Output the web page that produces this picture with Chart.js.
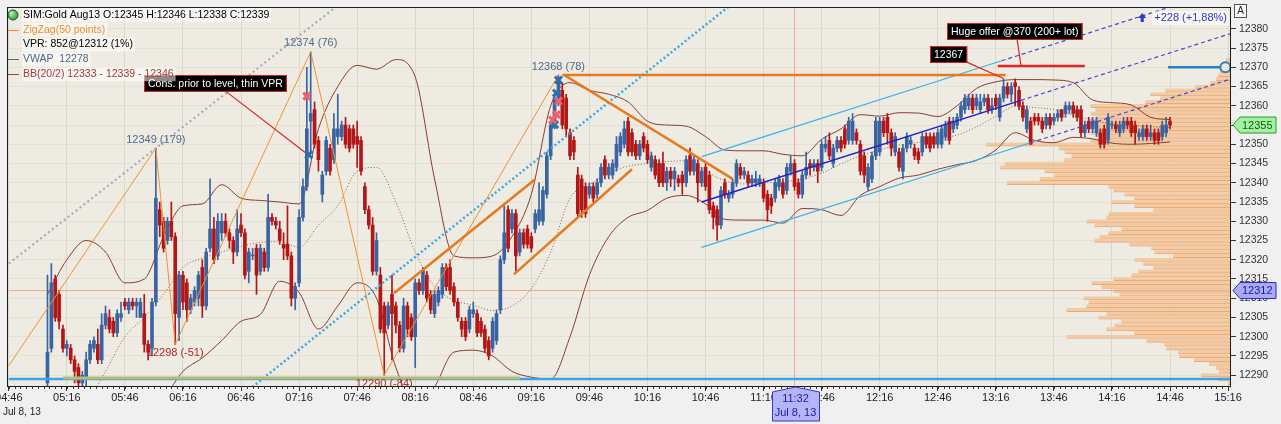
<!DOCTYPE html>
<html>
<head>
<meta charset="utf-8">
<title>SIM:Gold Aug13</title>
<script src="https://cdn.jsdelivr.net/npm/chart.js@4.4.1/dist/chart.umd.min.js"></script>
<style>
  html, body { margin: 0; padding: 0; background: #f0f0f0; overflow: hidden; }
  #chart { display: block; }
</style>
</head>
<body>
<canvas id="chart" width="1281" height="424"></canvas>
<script>
// 2-minute bars, Jul 8 2013
const firstBar = "05:06";
const barMinutes = 2;

const opens = [
  12288,12297,12315,12311,12302,12297,12297,12294,12292,12288,
  12289,12294,12297,12298,12294,12303,12305,12304,12301,12305,
  12309,12307,12309,12308,12305,12306,12298,12297,12309,12333,
  12330,12325,12330,12326,12305,12316,12314,12307,12309,12310,
  12318,12308,12323,12328,12321,12327,12330,12327,12325,12322,
  12329,12327,12317,12321,12323,12317,12322,12318,12331,12330,
  12328,12324,12324,12321,12310,12314,12331,12339,12356,12359,
  12351,12337,12343,12349,12346,12352,12352,12355,12354,12354,
  12352,12351,12339,12333,12329,12317,12316,12308,12303,12311,
  12308,12303,12297,12308,12305,12300,12314,12312,12316,12311,
  12306,12309,12311,12318,12318,12313,12309,12304,12304,12302,
  12306,12306,12304,12302,12299,12297,12299,12307,12320,12333,
  12328,12332,12322,12327,12328,12326,12328,12330,12330,12337,
  12347,12355,12361,12364,12362,12353,12351,12342,12341,12339,
  12337,12339,12337,12340,12346,12342,12342,12344,12348,12350,
  12356,12353,12350,12347,12352,12350,12344,12346,12345,12345,
  12340,12343,12341,12341,12342,12340,12347,12343,12345,12340,
  12344,12342,12334,12333,12329,12340,12336,12337,12340,12344,
  12342,12342,12340,12340,12340,12340,12337,12336,12336,12339,
  12340,12338,12343,12345,12340,12337,12342,12345,12344,12345,
  12344,12349,12351,12345,12349,12351,12354,12351,12351,12353,
  12350,12347,12339,12341,12347,12348,12356,12357,12353,12348,
  12348,12343,12349,12350,12349,12348,12348,12352,12352,12352,
  12350,12350,12352,12356,12354,12355,12357,12359,12360,12362,
  12360,12359,12361,12362,12359,12362,12357,12362,12365,12363,
  12366,12364,12360,12354,12356,12357,12357,12356,12355,12357,
  12356,12357,12359,12358,12359,12360,12359,12359,12353,12356,
  12354,12353,12353,12354,12351,12355,12355,12353,12354,12356,
  12356,12355,12352,12352,12354,12352,12353,12353,12352,12353,
  12356
];
const highs = [
  12316,12319,12316,12312,12303,12299,12298,12295,12293,12291,
  12296,12299,12300,12302,12306,12308,12307,12305,12307,12309,
  12310,12310,12310,12310,12310,12311,12299,12310,12349,12335,
  12331,12331,12335,12327,12317,12317,12315,12311,12313,12317,
  12320,12323,12341,12331,12332,12332,12332,12328,12326,12333,
  12332,12328,12323,12323,12324,12324,12323,12337,12332,12331,
  12330,12327,12334,12322,12314,12333,12341,12370,12374,12361,
  12352,12343,12352,12350,12358,12363,12356,12357,12355,12355,
  12356,12352,12340,12334,12331,12327,12318,12309,12309,12316,
  12309,12304,12310,12309,12306,12315,12315,12318,12317,12312,
  12312,12313,12319,12319,12320,12314,12310,12305,12305,12308,
  12309,12307,12305,12303,12300,12305,12307,12321,12334,12334,
  12333,12333,12328,12328,12329,12327,12333,12340,12339,12348,
  12356,12363,12368,12366,12363,12354,12352,12344,12342,12340,
  12340,12340,12341,12345,12347,12345,12346,12352,12353,12356,
  12357,12354,12351,12351,12353,12351,12348,12347,12346,12348,
  12344,12344,12344,12342,12343,12347,12349,12347,12346,12344,
  12345,12343,12335,12334,12339,12341,12338,12341,12346,12345,
  12344,12343,12342,12343,12342,12341,12338,12337,12341,12342,
  12341,12345,12347,12346,12341,12343,12348,12346,12346,12346,
  12351,12352,12353,12350,12352,12352,12355,12357,12358,12354,
  12351,12348,12345,12348,12357,12357,12357,12358,12354,12353,
  12349,12350,12353,12352,12350,12349,12353,12353,12353,12353,
  12354,12355,12356,12357,12357,12358,12361,12363,12363,12363,
  12363,12363,12363,12363,12362,12363,12363,12367,12366,12366,
  12367,12365,12361,12360,12357,12358,12358,12357,12358,12358,
  12358,12359,12359,12361,12361,12361,12360,12360,12356,12357,
  12357,12357,12354,12355,12358,12356,12356,12356,12357,12357,
  12357,12356,12354,12355,12355,12355,12354,12354,12356,12357,
  12357
];
const lows = [
  12286,12296,12304,12302,12296,12295,12293,12288,12285,12285,
  12287,12293,12296,12293,12293,12302,12301,12300,12300,12304,
  12307,12306,12307,12305,12305,12296,12294,12295,12308,12326,
  12322,12324,12325,12298,12299,12307,12304,12306,12308,12308,
  12305,12307,12322,12319,12320,12325,12326,12323,12319,12321,
  12326,12315,12314,12320,12311,12316,12317,12317,12329,12328,
  12324,12320,12320,12308,12307,12313,12330,12338,12348,12349,
  12343,12335,12342,12342,12345,12350,12351,12349,12348,12349,
  12344,12342,12332,12328,12316,12316,12301,12290,12302,12294,
  12301,12296,12296,12300,12299,12292,12311,12311,12309,12306,
  12305,12308,12310,12312,12311,12308,12304,12300,12299,12301,
  12305,12300,12300,12296,12294,12296,12298,12306,12319,12322,
  12327,12317,12321,12323,12323,12322,12327,12329,12329,12336,
  12346,12354,12360,12354,12352,12346,12346,12331,12331,12331,
  12336,12335,12336,12339,12341,12341,12341,12343,12347,12349,
  12347,12347,12346,12346,12348,12345,12343,12341,12339,12339,
  12338,12339,12338,12339,12337,12339,12342,12342,12335,12339,
  12338,12332,12328,12325,12328,12336,12335,12336,12339,12341,
  12341,12339,12339,12339,12339,12335,12330,12332,12335,12338,
  12336,12337,12342,12338,12336,12336,12341,12342,12343,12340,
  12343,12348,12346,12344,12348,12348,12349,12350,12350,12350,
  12342,12340,12338,12340,12346,12347,12352,12350,12347,12347,
  12343,12341,12348,12349,12346,12345,12347,12349,12348,12349,
  12349,12349,12351,12350,12353,12354,12356,12358,12359,12358,
  12359,12358,12360,12358,12358,12359,12356,12361,12362,12361,
  12360,12359,12356,12353,12350,12355,12355,12353,12354,12354,
  12355,12356,12356,12357,12358,12357,12356,12352,12352,12353,
  12353,12352,12349,12349,12350,12354,12353,12352,12353,12354,
  12352,12350,12351,12351,12351,12351,12350,12350,12351,12352,
  12354
];
const closes = [
  12296,12314,12305,12304,12297,12298,12294,12291,12288,12290,
  12294,12298,12299,12294,12303,12306,12302,12301,12306,12306,
  12308,12309,12308,12309,12309,12298,12296,12309,12336,12329,
  12323,12330,12326,12306,12316,12309,12307,12310,12312,12316,
  12308,12322,12328,12320,12330,12330,12327,12325,12322,12328,
  12327,12316,12322,12321,12316,12323,12318,12331,12330,12329,
  12325,12323,12321,12310,12313,12331,12339,12354,12358,12350,
  12346,12342,12351,12343,12354,12354,12355,12350,12349,12350,
  12350,12343,12333,12329,12317,12325,12302,12301,12308,12306,
  12303,12297,12308,12302,12300,12314,12312,12317,12310,12307,
  12311,12312,12318,12313,12312,12309,12305,12302,12300,12307,
  12307,12301,12301,12297,12295,12304,12306,12320,12327,12323,
  12332,12321,12327,12324,12324,12323,12332,12333,12338,12347,
  12355,12362,12367,12355,12354,12347,12348,12332,12333,12332,
  12339,12336,12340,12344,12342,12344,12345,12350,12352,12354,
  12348,12348,12347,12350,12349,12346,12347,12342,12340,12340,
  12343,12341,12343,12340,12340,12346,12343,12346,12340,12343,
  12339,12333,12331,12329,12338,12337,12337,12340,12345,12342,
  12343,12340,12341,12341,12341,12336,12333,12334,12340,12341,
  12337,12344,12345,12339,12337,12342,12344,12344,12345,12343,
  12350,12350,12347,12349,12351,12349,12350,12356,12356,12351,
  12343,12342,12344,12347,12356,12356,12353,12353,12349,12352,
  12344,12349,12352,12351,12347,12346,12352,12350,12349,12350,
  12353,12354,12355,12351,12356,12357,12360,12362,12362,12359,
  12362,12361,12362,12359,12360,12360,12362,12365,12363,12365,
  12365,12360,12357,12359,12350,12356,12356,12354,12357,12355,
  12357,12358,12357,12360,12360,12358,12357,12353,12355,12354,
  12356,12356,12350,12350,12357,12355,12354,12355,12356,12355,
  12353,12353,12353,12354,12352,12353,12351,12351,12355,12355,
  12355
];

// Bollinger bands read every 10 minutes from 05:06
const bbStart = "05:06";
const bbStep = 10;
const bbUpper = [
  12311,12320,12325,12322,12314,12315,12326,12334,12334.5,12339.5,
  12336,12335.4,12335,12334.5,12354,12365,12370.5,12369.5,12372,12367.5,
  12341,12321,12320.5,12321,12326,12337,12360,12366,12364,12363,
  12361,12356,12355,12354.7,12352,12348.5,12348.3,12348.3,12347.4,12347,
  12351.3,12354,12357.7,12357.3,12358.2,12358.1,12357.2,12360,12364.5,12366.2,
  12366.8,12366.8,12366.7,12366,12361.5,12360.8,12360.2,12357,12356.4
];
const bbMid = [
  12280,12281,12283,12291,12300,12305,12311,12318,12320.4,12322,
  12323.5,12324.5,12324.7,12323.2,12329,12334,12343,12344,12335,12322,
  12313,12309.5,12308.2,12306.8,12308,12312.5,12322,12336,12339.5,12342.5,
  12344.3,12345,12345.5,12345.7,12343,12340.5,12339.7,12340,12340.2,12341,
  12342.5,12344.9,12347,12348.5,12349.8,12350.5,12351.5,12352.4,12354.5,12357.3,
  12359.8,12359.5,12359,12357.5,12356.3,12355.3,12355,12354.6,12354.3
];
const bbLower = [
  12268,12270,12272,12274,12277,12280,12284,12291,12294.5,12299,
  12304,12305.8,12314.4,12311.5,12302,12308,12314,12310,12292,12282,
  12287,12296,12296.5,12295,12291,12289.5,12289,12300,12316,12326,
  12331,12332.8,12336,12336.7,12334.5,12330.5,12330.3,12330.3,12329.5,12333.3,
  12333,12331.5,12336.7,12339,12341.2,12342,12343.5,12344.7,12345.8,12348.5,
  12353,12351,12350.4,12351.8,12351.4,12350.3,12350,12350.2,12350.6
];

// volume profile (price level -> relative volume)
const vpPrices = [
  12288,12289,12290,12291,12292,12293,12294,12295,12296,12297,
  12298,12299,12300,12301,12302,12303,12304,12305,12306,12307,
  12308,12309,12310,12311,12312,12313,12314,12315,12316,12317,
  12318,12319,12320,12321,12322,12323,12324,12325,12326,12327,
  12328,12329,12330,12331,12332,12333,12334,12335,12336,12337,
  12338,12339,12340,12341,12342,12343,12344,12345,12346,12347,
  12348,12349,12350,12351,12352,12353,12354,12355,12356,12357,
  12358,12359,12360,12361,12362,12363,12364,12365,12366,12367,
  12368,12369,12370,12371,12372
];
const vpVolumes = [
  2,12,29,11,14,21,36,51,52,64,
  66,84,164,96,124,116,109,132,124,164,
  144,142,147,111,117,129,139,117,99,92,
  77,87,96,57,76,79,101,136,131,122,
  109,136,144,124,122,77,96,119,96,106,
  117,122,224,191,176,186,231,226,167,159,
  166,172,245,140,130,140,135,140,140,135,
  140,135,140,85,70,80,65,35,20,14,
  12,10,8,6,4
];

// zigzag (50 points)
const zigzagTimes = ["04:46","06:02","06:12","07:22","08:00","09:30"];
const zigzagValues = [12292.5,12349,12298,12374,12290,12368];
const zigzagLabels = ["","12349 (179)","12298 (-51)","12374 (76)","12290 (-84)","12368 (78)"];

// axis ticks
const xTickLabels = ["04:46","05:16","05:46","06:16","06:46","07:16","07:46","08:16","08:46","09:16","09:46",
                     "10:16","10:46","11:16","11:46","12:16","12:46","13:16","13:46","14:16","14:46","15:16"];
const yTicks = [12290,12295,12300,12305,12310,12315,12320,12325,12330,12335,12340,
                12345,12350,12355,12360,12365,12370,12375,12380];

// hand-drawn studies
const orangeLines = [
  [["09:32",12368],["13:21",12368]],
  [["09:33",12368],["11:00",12341]],
  [["08:05",12311.3],["09:18",12340.9]],
  [["09:07",12316.2],["10:08",12343.5]]
];
const channelSolid = [
  [["10:44",12346.8],["13:19",12371.7]],
  [["10:44",12335.0],["13:29",12361.4]],
  [["10:44",12323.2],["13:34",12350.4]]
];
const channelColors = ["#3ab2e4","#2222c8","#3ab2e4"];
const channelDashed = [
  [["13:19",12371.7],["15:00",12387.9]],
  [["13:29",12361.4],["15:17",12378.7]],
  [["13:34",12350.4],["15:17",12366.9]]
];
const grayDotted = [["04:46",12319],["07:46",12390]];
const cyanDotted = [["06:50",12286.2],["11:05",12388.6]];
const redLines = [
  [["06:38",12363.8],["07:19",12347.9]],
  [["12:59",12371.8],["13:20",12367.1]],
  [["13:27",12377.2],["13:29",12370.5]]
];
const offerLine = [["13:17",12370.3],["14:02",12370.3]];
const blueXs = [["07:21",12347.3],["09:30",12366.7],["09:29",12363.3],["09:28",12355.1]];
const redXs = [["07:20",12362.5],["09:30",12361.2],["09:29",12357.7],["09:27",12356.3]];
const baseLevel = 12289;
const oliveLine = [["05:14",12289.3],["09:10",12289.3]];
const alertLine = [["14:45",12370],["15:14",12370]];
const vprLevel = 12312;
const lastPrice = 12355;
const crosshairTime = "11:32";

const noteTexts = ["Cons. prior to level, thin VPR","12367","Huge offer @370 (200+ lot)"];
const noteTimes = ["05:56","12:42","12:51"];
const notePrices = [12368,12375.6,12381.5];

const legendTexts = ["SIM:Gold Aug13 O:12345 H:12346 L:12338 C:12339","ZigZag(50 points)","VPR: 852@12312 (1%)","VWAP  12278","BB(20/2) 12333 - 12339 - 12346"];
const legendColors = ["#000000","#f28c28","#000000","#4d6a84","#a53b3b"];

const FONT = '"Liberation Sans", Arial, sans-serif';
Chart.defaults.font.family = FONT;
Chart.defaults.font.size = 11;

function toMin(s) {
  let p = s.split(":");
  return parseInt(p[0]) * 60 + parseInt(p[1]);
}
function pts(list) {
  return list.map(d => ({ x: toMin(d[0]), y: d[1] }));
}
function lineDs(data, color, width, dash, order) {
  return { type: "line", data: data, borderColor: color, borderWidth: width, borderDash: dash || [],
           pointRadius: 0, fill: false, tension: 0, order: order, xAxisID: "x", yAxisID: "y" };
}

const xMin = toMin("04:46") - 0.4;
const xMax = toMin("15:17");
const yMin = 12287.2, yMax = 12385.4;

const UP = "#3a63a2", DOWN = "#b31616";
const t0 = toMin(firstBar);
const barX = opens.map((o, i) => t0 + i * barMinutes);
const candleColors = opens.map((o, i) => closes[i] >= o ? UP : DOWN);
const bbX = bbUpper.map((v, i) => toMin(bbStart) + i * bbStep);

let datasets = [];

// volume profile, drawn from the right edge
datasets.push({
  type: "bar", indexAxis: "y", xAxisID: "vol", yAxisID: "y",
  data: vpPrices.map((p, i) => ({ x: vpVolumes[i], y: p })),
  backgroundColor: "#f4caa3", borderColor: "#e8ac7c",
  borderWidth: { top: 0, right: 0, bottom: 1, left: 0 }, borderSkipped: false,
  barThickness: 3.6, grouped: false, order: 100
});

// VPR level and crosshair
datasets.push(lineDs(pts([["04:46",vprLevel],["15:17",vprLevel]]), "#f2a890", 1, [], 90));
datasets.push(lineDs([{ x: toMin(crosshairTime), y: yMin }, { x: toMin(crosshairTime), y: yMax }], "#f3a4a0", 1, [], 90));

// Bollinger bands
datasets.push({ type: "line", data: bbX.map((x, i) => ({ x: x, y: bbUpper[i] })), borderColor: "#8c3c32", borderWidth: 1,
  pointRadius: 0, cubicInterpolationMode: "monotone", order: 50 });
datasets.push({ type: "line", data: bbX.map((x, i) => ({ x: x, y: bbLower[i] })), borderColor: "#8c3c32", borderWidth: 1,
  pointRadius: 0, cubicInterpolationMode: "monotone", order: 50 });
datasets.push({ type: "line", data: bbX.map((x, i) => ({ x: x, y: bbMid[i] })), borderColor: "#9a5a50", borderWidth: 1,
  borderDash: [1, 2], pointRadius: 0, cubicInterpolationMode: "monotone", order: 50 });

// candles: wicks then bodies
datasets.push({
  type: "bar", data: barX.map((x, i) => ({ x: x, y: [lows[i], highs[i]] })),
  backgroundColor: candleColors, barThickness: 1, grouped: false, order: 41
});
datasets.push({
  type: "bar", data: barX.map((x, i) => ({ x: x, y: [opens[i], closes[i]] })),
  backgroundColor: candleColors, barThickness: 3, minBarLength: 1, grouped: false, order: 40
});

// zigzag
datasets.push(lineDs(zigzagTimes.map((t, i) => ({ x: toMin(t), y: zigzagValues[i] })), "#f3922e", 1, [], 30));

// study lines
datasets.push(lineDs(pts(grayDotted), "#a7a1bf", 2, [2, 3], 20));
datasets.push(lineDs(pts(cyanDotted), "#38a8e0", 2.5, [2, 2.5], 20));
orangeLines.forEach(l => datasets.push(lineDs(pts(l), "#e67a1c", 2.5, [], 15)));
channelSolid.forEach((l, i) => datasets.push(lineDs(pts(l), channelColors[i], i === 1 ? 1.5 : 1.2, [], 15)));
channelDashed.forEach(l => datasets.push(lineDs(pts(l), "#4a44d4", 1.2, [4, 3], 15)));
redLines.forEach(l => datasets.push(lineDs(pts(l), "#e02424", 1.2, [], 12)));
datasets.push(lineDs(pts(offerLine), "#e82222", 2.5, [], 12));
datasets.push(lineDs(pts([["04:46",baseLevel],["15:17",baseLevel]]), "#3aa4e6", 2.5, [], 14));
datasets.push(lineDs(pts(oliveLine), "#b4bc72", 3, [], 13));
datasets.push(lineDs(pts(alertLine), "#2f7fc0", 2.5, [], 12));

// execution markers
datasets.push({ type: "line", showLine: false, data: pts(blueXs), pointStyle: "crossRot", pointRadius: 5,
  pointBorderWidth: 3, pointBorderColor: "#2a6fa8", order: 5 });
datasets.push({ type: "line", showLine: false, data: pts(redXs), pointStyle: "crossRot", pointRadius: 5,
  pointBorderWidth: 3, pointBorderColor: "#f0606e", order: 4 });

function seg(ctx, x1, y1, x2, y2) {
  ctx.beginPath(); ctx.moveTo(x1, y1); ctx.lineTo(x2, y2); ctx.stroke();
}

function noteBox(ctx, text, x, y) {
  ctx.font = "10.5px " + FONT;
  let w = ctx.measureText(text).width + 8;
  ctx.fillStyle = "#000";
  ctx.fillRect(x, y, w, 17);
  ctx.strokeStyle = "#d42020"; ctx.lineWidth = 1;
  ctx.strokeRect(x + 0.5, y + 0.5, w - 1, 16);
  ctx.fillStyle = "#fff"; ctx.textAlign = "left"; ctx.textBaseline = "middle";
  ctx.fillText(text, x + 4, y + 9);
}

function axisTag(ctx, a, yp, text, fill, stroke, color) {
  let x0 = a.right + 3, h = 16, w = 43;
  ctx.beginPath();
  ctx.moveTo(x0, yp);
  ctx.lineTo(x0 + 7, yp - h / 2);
  ctx.lineTo(x0 + w, yp - h / 2);
  ctx.lineTo(x0 + w, yp + h / 2);
  ctx.lineTo(x0 + 7, yp + h / 2);
  ctx.closePath();
  ctx.fillStyle = fill; ctx.fill();
  ctx.strokeStyle = stroke; ctx.lineWidth = 1; ctx.stroke();
  ctx.fillStyle = color; ctx.font = "11px " + FONT;
  ctx.textAlign = "left"; ctx.textBaseline = "middle";
  ctx.fillText(text, x0 + 9, yp + 0.5);
}

const scenePlugin = {
  id: "scene",
  beforeDraw(chart) {
    const ctx = chart.ctx, a = chart.chartArea;
    ctx.save();
    ctx.fillStyle = "#f0f0f0";
    ctx.fillRect(0, 0, chart.width, chart.height);
    ctx.fillStyle = "#eeebe2";
    ctx.fillRect(a.left, a.top, a.right - a.left, a.bottom - a.top);
    ctx.restore();
  },
  afterDatasetsDraw(chart) {
    const ctx = chart.ctx, a = chart.chartArea, xs = chart.scales.x, ys = chart.scales.y;
    ctx.save();
    ctx.beginPath(); ctx.rect(a.left, a.top, a.right - a.left, a.bottom - a.top); ctx.clip();

    // zigzag labels
    ctx.font = "11px " + FONT; ctx.textAlign = "center";
    for (let i = 1; i < zigzagTimes.length; i++) {
      let xp = xs.getPixelForValue(toMin(zigzagTimes[i])), yp = ys.getPixelForValue(zigzagValues[i]);
      let peak = zigzagValues[i] > zigzagValues[i - 1];
      ctx.fillStyle = peak ? "#4d6b8c" : "#b02828";
      ctx.textBaseline = peak ? "bottom" : "top";
      ctx.fillText(zigzagLabels[i], xp, peak ? yp - 3 : yp + 3);
    }

    // annotation boxes
    noteTexts.forEach((t, i) => {
      noteBox(ctx, t, Math.round(xs.getPixelForValue(toMin(noteTimes[i]))), Math.round(ys.getPixelForValue(notePrices[i])));
    });

    // alert handle
    let cx = xs.getPixelForValue(toMin(alertLine[1][0]) + 0.6), cy = ys.getPixelForValue(alertLine[1][1]);
    ctx.beginPath(); ctx.arc(cx, cy, 5, 0, Math.PI * 2);
    ctx.fillStyle = "#ece8dc"; ctx.fill();
    ctx.strokeStyle = "#2f7fc0"; ctx.lineWidth = 2; ctx.stroke();

    // channel projection text
    ctx.font = "11px " + FONT; ctx.textAlign = "right"; ctx.textBaseline = "middle";
    let ty = ys.getPixelForValue(12382.8), tx = a.right - 3, tw = ctx.measureText("+228 (+1,88%)").width;
    ctx.fillStyle = "rgba(255,255,255,0.55)";
    ctx.fillRect(tx - tw - 2, ty - 7, tw + 4, 14);
    ctx.fillStyle = "#2a3cc8";
    ctx.fillText("+228 (+1,88%)", tx, ty);
    let ax = tx - tw - 12;
    ctx.beginPath(); ctx.moveTo(ax - 4, ty); ctx.lineTo(ax + 4, ty); ctx.lineTo(ax, ty - 5); ctx.closePath(); ctx.fill();
    ctx.fillRect(ax - 1.5, ty, 3, 4);

    // legend
    ctx.font = "10.5px " + FONT; ctx.textAlign = "left"; ctx.textBaseline = "middle";
    legendTexts.forEach((t, i) => {
      let y = 15 + i * 14.8, w = ctx.measureText(t).width;
      ctx.fillStyle = "rgba(255,255,255,0.55)";
      ctx.fillRect(22, y - 7, w + 3, 14);
      ctx.fillStyle = legendColors[i];
      ctx.fillText(t, 23, y);
      if (i === 1 || i === 3 || i === 4) {
        ctx.strokeStyle = legendColors[i]; ctx.lineWidth = 1;
        seg(ctx, 7, Math.round(y) + 0.5, 19, Math.round(y) + 0.5);
      }
    });
    let g = ctx.createRadialGradient(11, 13, 1, 13, 15, 6);
    g.addColorStop(0, "#a8f0a0"); g.addColorStop(1, "#1f8a2a");
    ctx.beginPath(); ctx.arc(13, 15, 5, 0, Math.PI * 2);
    ctx.fillStyle = g; ctx.fill();
    ctx.strokeStyle = "#2a4a2a"; ctx.lineWidth = 1; ctx.stroke();
    ctx.restore();

    // plot frame
    ctx.save();
    ctx.strokeStyle = "#1c1c1c"; ctx.lineWidth = 1;
    ctx.strokeRect(a.left - 0.5, a.top - 0.5, a.right - a.left + 1, a.bottom - a.top + 1);
    ctx.restore();
  },
  afterDraw(chart) {
    const ctx = chart.ctx, a = chart.chartArea, xs = chart.scales.x, ys = chart.scales.y;
    ctx.save();
    // minor time ticks every 3 minutes
    ctx.strokeStyle = "#333"; ctx.lineWidth = 1;
    for (let m = toMin(xTickLabels[0]); m <= xMax; m += 3) {
      let xp = Math.round(xs.getPixelForValue(m)) + 0.5;
      seg(ctx, xp, a.bottom, xp, a.bottom + 3);
    }
    ctx.font = "10px " + FONT; ctx.fillStyle = "#222"; ctx.textAlign = "left"; ctx.textBaseline = "middle";
    ctx.fillText("Jul 8, 13", 3, 412);

    // price tags
    axisTag(ctx, a, ys.getPixelForValue(lastPrice), String(lastPrice), "#a3f2a3", "#2a9a2a", "#0f5f0f");
    axisTag(ctx, a, ys.getPixelForValue(vprLevel), String(vprLevel), "#aaaaf8", "#2b2bc0", "#1a1a9a");

    // crosshair time label
    let cx = Math.round(xs.getPixelForValue(toMin(crosshairTime))) + 0.5, top = a.bottom + 1;
    ctx.beginPath();
    ctx.moveTo(cx - 23, top + 5); ctx.lineTo(cx, top); ctx.lineTo(cx + 24, top + 5);
    ctx.lineTo(cx + 24, top + 34); ctx.lineTo(cx - 23, top + 34); ctx.closePath();
    ctx.fillStyle = "#b3b5f6"; ctx.fill();
    ctx.strokeStyle = "#3636c8"; ctx.stroke();
    ctx.fillStyle = "#1c1ca0"; ctx.font = "11px " + FONT; ctx.textAlign = "center";
    ctx.fillText(crosshairTime, cx, top + 12);
    ctx.fillText("Jul 8, 13", cx, top + 26);

    // auto-scale button
    ctx.fillStyle = "#fafafa"; ctx.fillRect(a.right + 4.5, 4.5, 12, 13);
    ctx.strokeStyle = "#555"; ctx.strokeRect(a.right + 4.5, 4.5, 12, 13);
    ctx.fillStyle = "#222"; ctx.font = "10px " + FONT; ctx.textAlign = "center";
    ctx.fillText("A", a.right + 10.5, 11.5);
    ctx.restore();
  }
};

const chart = new Chart(document.getElementById("chart").getContext("2d"), {
  type: "bar",
  data: { datasets: datasets },
  options: {
    responsive: false,
    animation: false,
    devicePixelRatio: 1,
    events: [],
    layout: { padding: { left: 4, top: 4, right: 0, bottom: 0 } },
    plugins: { legend: { display: false }, tooltip: { enabled: false } },
    scales: {
      x: {
        type: "linear", position: "bottom", min: xMin, max: xMax, offset: false,
        afterBuildTicks: s => { s.ticks = xTickLabels.map(l => ({ value: toMin(l) })); },
        afterFit: s => { s.height = 38; s.paddingLeft = 0; s.paddingRight = 0; },
        ticks: { autoSkip: false, maxRotation: 0, padding: 0, color: "#222", font: { size: 11 },
                 callback: (v, i) => xTickLabels[i] },
        grid: { offset: false, color: "#dbd7c9", tickColor: "#333", tickLength: 5 },
        border: { color: "#1c1c1c" }
      },
      y: {
        type: "linear", position: "right", min: yMin, max: yMax, offset: false,
        afterBuildTicks: s => { s.ticks = yTicks.map(v => ({ value: v })); },
        afterFit: s => { s.width = 51; s.paddingTop = 0; s.paddingBottom = 0; },
        ticks: { padding: 3, color: "#333", font: { size: 10.5 }, callback: v => String(v) },
        grid: { offset: false, color: "#e4e0d4", tickColor: "#333", tickLength: 6 },
        border: { color: "#1c1c1c" }
      },
      vol: { type: "linear", axis: "x", position: "bottom", display: false, reverse: true,
             offset: false, grid: { offset: false }, min: 0, max: 1226 }
    }
  },
  plugins: [scenePlugin]
});
</script>
</body>
</html>
